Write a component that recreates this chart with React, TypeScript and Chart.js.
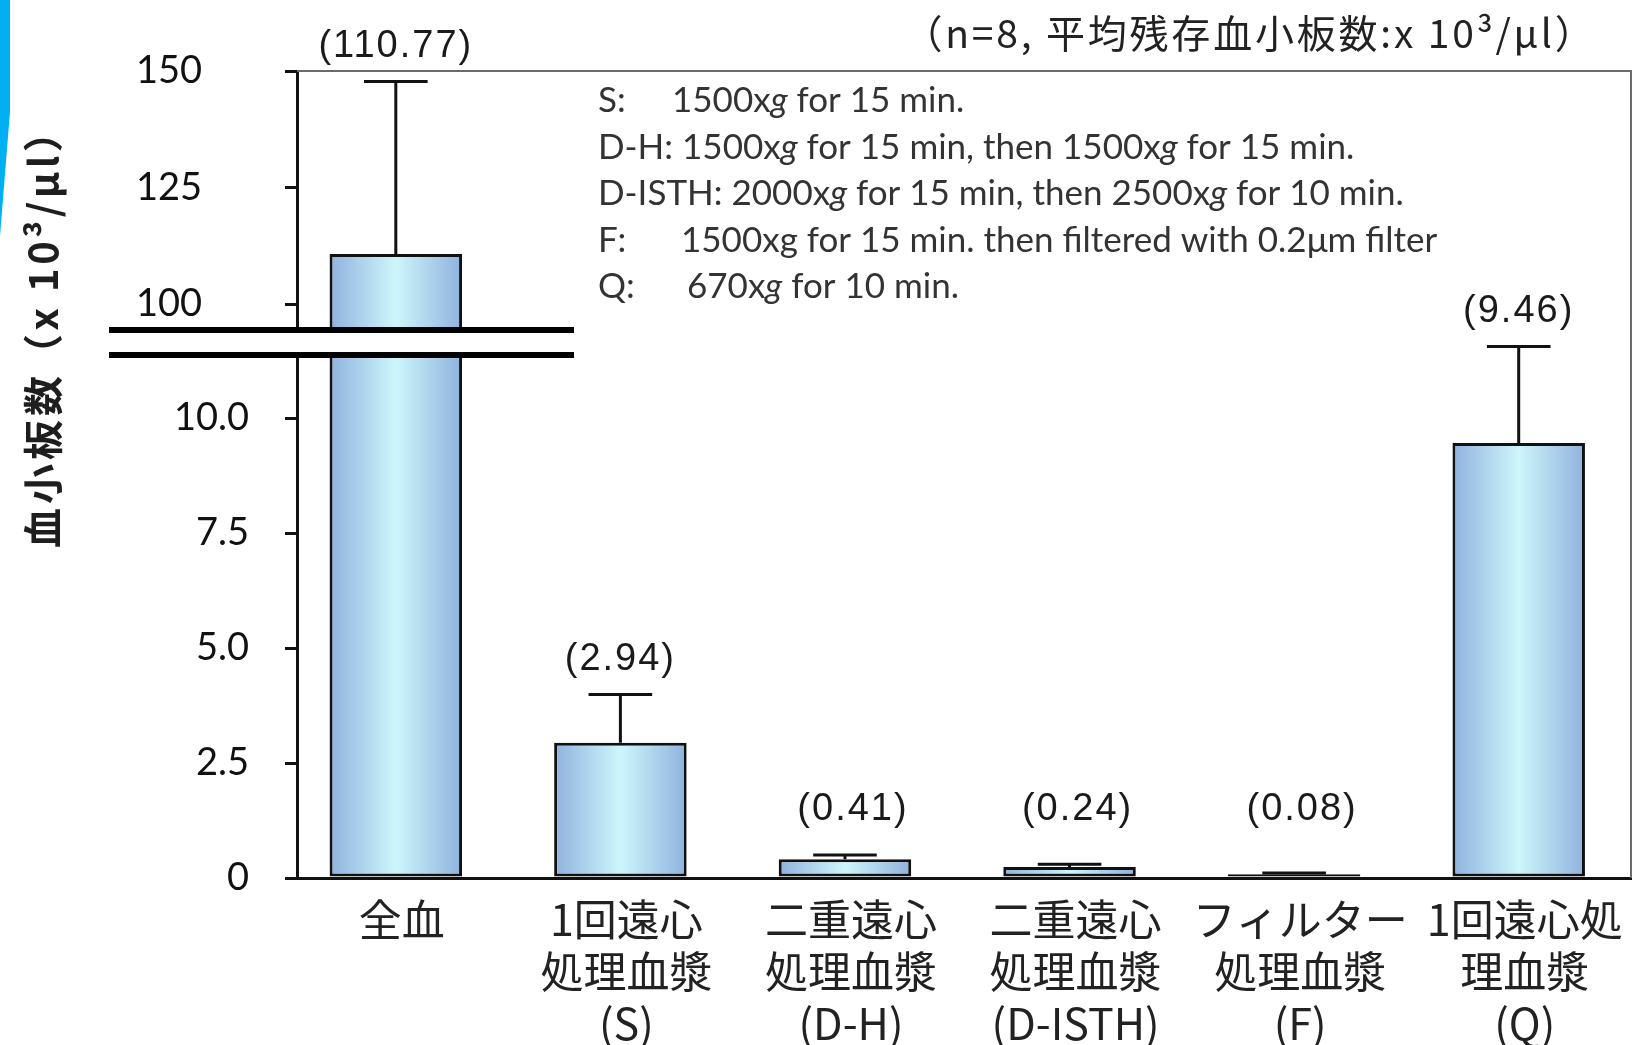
import { useEffect, useRef } from "react";
import { Chart, registerables } from "chart.js";

Chart.register(...registerables);

// Groups on the x axis (multi-line labels)
const CATEGORY_LABELS: string[][] = [
  ["全血"],
  ["1回遠心", "処理血漿", "(S)"],
  ["二重遠心", "処理血漿", "(D-H)"],
  ["二重遠心", "処理血漿", "(D-ISTH)"],
  ["フィルター", "処理血漿", "(F)"],
  ["1回遠心処", "理血漿", "(Q)"],
];

// Mean residual platelet count (x10^3/μl), n=8, and its SD (upper whisker only)
const MEAN_COUNTS = [110.77, 2.94, 0.41, 0.24, 0.08, 9.46];
const SD_COUNTS = [37.0, 1.05, 0.09, 0.06, 0.03, 2.1];

// Broken y axis: lower and upper segments
const LOWER_TICKS = [0, 2.5, 5, 7.5, 10];
const UPPER_TICKS = [100, 125, 150];
const LOWER_RANGE = [0, 11.7];
const UPPER_RANGE = [92.3, 150];
const X_RANGE = [-0.44, 5.5];

const Y_TITLE_MAIN = "血小板数";
const Y_TITLE_UNIT = "（x 10³/μl）";
const NOTE_TEXT = "（n=8, 平均残存血小板数:x 10³/μl）";

// Centrifugation protocols; [text, italic]
const PROTOCOL_KEYS = ["S:", "", "", "F:", "Q:"];
const PROTOCOL_BODIES: [string, boolean][][] = [
  [["1500x", false], ["g", true], [" for 15 min.", false]],
  [["D-H: 1500x", false], ["g", true], [" for 15 min, then 1500x", false], ["g", true], [" for 15 min.", false]],
  [["D-ISTH: 2000x", false], ["g", true], [" for 15 min, then 2500x", false], ["g", true], [" for 10 min.", false]],
  [["1500xg for 15 min. then filtered with 0.2μm filter", false]],
  [["670x", false], ["g", true], [" for 10 min.", false]],
];
const PROTOCOL_TABS = [74, 0, 0, 83, 89];

const CJK = "'Noto Sans CJK JP', 'Noto Sans', sans-serif";
const NUM = "'Liberation Sans', Arial, sans-serif";
const TICK = "Lato, 'Open Sans', sans-serif";
const BAR_FRACTION = 0.59;

function barGradient(chart: any, index: number) {
  const xs = chart.scales?.x;
  if (!xs || !chart.chartArea) return "#b3d6ee";
  const cx = xs.getPixelForValue(index);
  const half = ((xs.getPixelForValue(1) - xs.getPixelForValue(0)) * BAR_FRACTION) / 2;
  const g = chart.ctx.createLinearGradient(cx - half, 0, cx + half, 0);
  g.addColorStop(0, "#8fb2de");
  g.addColorStop(0.5, "#cdf6fb");
  g.addColorStop(1, "#8fb2de");
  return g;
}

// keep the axes from pushing the plot area inward
function noEdgePadding(s: any) {
  s.paddingTop = 0;
  s.paddingBottom = 0;
  s.paddingLeft = 0;
  s.paddingRight = 0;
}

const overlayPlugin = {
  id: "overlay",
  beforeDraw(chart: any) {
    const { ctx } = chart;
    ctx.save();
    ctx.fillStyle = "#ffffff";
    ctx.fillRect(0, 0, chart.width, chart.height);
    // slide accent on the left edge
    ctx.fillStyle = "#00b0f0";
    ctx.beginPath();
    ctx.moveTo(0, 0);
    ctx.lineTo(10, 0);
    ctx.lineTo(10, 112);
    ctx.lineTo(0, 236);
    ctx.closePath();
    ctx.fill();
    ctx.restore();
  },
  afterDraw(chart: any) {
    const { ctx, chartArea: ca, scales } = chart;
    const xs = scales.x;
    const lo = scales.yLow;
    const hi = scales.yHigh;
    ctx.save();

    // frame: top and right edges
    ctx.strokeStyle = "#6a6a6a";
    ctx.lineWidth = 2;
    ctx.beginPath();
    ctx.moveTo(ca.left, ca.top);
    ctx.lineTo(ca.right, ca.top);
    ctx.lineTo(ca.right, ca.bottom);
    ctx.stroke();

    // error whiskers and value labels
    const meta = chart.getDatasetMeta(0);
    MEAN_COUNTS.forEach((m, i) => {
      const s = m > LOWER_RANGE[1] ? hi : lo;
      const px = xs.getPixelForValue(i);
      const yBar = s.getPixelForValue(m);
      const yTop = s.getPixelForValue(m + SD_COUNTS[i]);
      const half = meta.data[i].width * 0.24;
      ctx.strokeStyle = "#111";
      ctx.lineWidth = 3;
      ctx.beginPath();
      ctx.moveTo(px, yBar);
      ctx.lineTo(px, yTop);
      ctx.moveTo(px - half, yTop);
      ctx.lineTo(px + half, yTop);
      ctx.stroke();

      const small = yTop - 35 > ca.bottom - 68;
      const ly = small ? ca.bottom - 68 : yTop - 35;
      ctx.font = `38px ${NUM}`;
      (ctx as any).letterSpacing = "2px";
      ctx.fillStyle = "#1a1a1a";
      ctx.textAlign = "center";
      ctx.textBaseline = "middle";
      ctx.fillText(`(${m.toFixed(2)})`, px + (small ? 8 : 0), ly);
      (ctx as any).letterSpacing = "0px";
    });

    // axis break marks
    const yb = lo.top;
    const bl = ca.left - 188;
    const bw = 465;
    ctx.fillStyle = "#ffffff";
    ctx.fillRect(bl, yb - 8, bw, 21);
    ctx.fillStyle = "#000000";
    ctx.fillRect(bl, yb - 13, bw, 6);
    ctx.fillRect(bl, yb + 12, bw, 6);

    // protocol notes
    const nx = ca.left + 301;
    PROTOCOL_BODIES.forEach((segs, r) => {
      const y = ca.top + 30 + r * 46.5;
      ctx.fillStyle = "#333333";
      ctx.textAlign = "left";
      ctx.textBaseline = "middle";
      ctx.font = `35px ${TICK}`;
      if (PROTOCOL_KEYS[r]) ctx.fillText(PROTOCOL_KEYS[r], nx, y);
      let cx = nx + PROTOCOL_TABS[r];
      segs.forEach(([t, it]) => {
        ctx.font = `${it ? "italic " : ""}35px ${TICK}`;
        ctx.fillText(t, cx, y);
        cx += ctx.measureText(t).width;
      });
    });

    // sample-size note above the plot
    ctx.font = `39px ${CJK}`;
    (ctx as any).letterSpacing = "2.8px";
    ctx.fillStyle = "#222";
    ctx.textAlign = "center";
    ctx.textBaseline = "middle";
    ctx.fillText(NOTE_TEXT, 1250, ca.top - 38);

    // y axis title, read bottom to top
    ctx.translate(43, ca.top + 477);
    ctx.rotate(-Math.PI / 2);
    ctx.fillStyle = "#1e1e1e";
    ctx.textAlign = "left";
    ctx.textBaseline = "middle";
    ctx.font = `bold 40px ${CJK}`;
    (ctx as any).letterSpacing = "4px";
    ctx.fillText(Y_TITLE_MAIN, 0, 0);
    const w = ctx.measureText(Y_TITLE_MAIN).width;
    (ctx as any).letterSpacing = "3.5px";
    ctx.fillText(Y_TITLE_UNIT, w - 2, 0);
    ctx.restore();
  },
};

export default function App() {
  const canvasRef = useRef<HTMLCanvasElement | null>(null);

  useEffect(() => {
    const canvas = canvasRef.current;
    if (!canvas) return;

    const lowerData = MEAN_COUNTS.map((v, i) => ({ x: i, y: Math.min(v, LOWER_RANGE[1]) }));
    const upperData = MEAN_COUNTS.map((v, i) => ({ x: i, y: v > UPPER_RANGE[0] ? v : null }));

    const common = {
      backgroundColor: (c: any) => barGradient(c.chart, c.dataIndex),
      borderColor: "#111111",
      borderWidth: 3,
      borderSkipped: false as const,
      barPercentage: BAR_FRACTION,
      categoryPercentage: 1,
      grouped: false,
    };

    const chart = new Chart(canvas, {
      type: "bar",
      data: {
        datasets: [
          { ...common, label: "lower", data: lowerData as any, yAxisID: "yLow" },
          { ...common, label: "upper", data: upperData as any, yAxisID: "yHigh" },
        ],
      },
      options: {
        responsive: false,
        animation: false,
        devicePixelRatio: 1,
        events: [],
        layout: { padding: { top: 71, right: 6, left: 0, bottom: 0 } },
        plugins: { legend: { display: false }, tooltip: { enabled: false } },
        scales: {
          x: {
            type: "linear",
            offset: false,
            min: X_RANGE[0],
            max: X_RANGE[1],
            grid: { display: false, offset: false },
            border: { display: true, color: "#111", width: 3 },
            afterBuildTicks: (s: any) => {
              s.ticks = CATEGORY_LABELS.map((_, i) => ({ value: i }));
            },
            afterFit: (s: any) => {
              s.height = 167;
              noEdgePadding(s);
            },
            ticks: {
              autoSkip: false,
              maxRotation: 0,
              minRotation: 0,
              padding: 8,
              labelOffset: 6,
              color: "#222",
              font: { family: CJK, size: 43, lineHeight: 1.21 },
              callback: (v: any) => CATEGORY_LABELS[Math.round(Number(v))] ?? "",
            },
          },
          yLow: {
            type: "linear",
            position: "left",
            stack: "broken",
            stackWeight: 2,
            min: LOWER_RANGE[0],
            max: LOWER_RANGE[1],
            afterBuildTicks: (s: any) => {
              s.ticks = LOWER_TICKS.map((v) => ({ value: v }));
            },
            afterFit: (s: any) => {
              s.width = 297;
              noEdgePadding(s);
            },
            grid: { drawOnChartArea: false, drawTicks: true, tickLength: 12, color: "#111", lineWidth: 3 },
            border: { display: true, color: "#111", width: 3 },
            ticks: {
              padding: 36,
              color: "#111",
              font: { family: TICK, size: 38 },
              callback: (v: any) => (Number(v) === 0 ? "0" : Number(v).toFixed(1)),
            },
          },
          yHigh: {
            type: "linear",
            position: "left",
            stack: "broken",
            stackWeight: 1,
            min: UPPER_RANGE[0],
            max: UPPER_RANGE[1],
            afterBuildTicks: (s: any) => {
              s.ticks = UPPER_TICKS.map((v) => ({ value: v }));
            },
            afterFit: (s: any) => {
              s.width = 297;
              noEdgePadding(s);
            },
            grid: { drawOnChartArea: false, drawTicks: true, tickLength: 12, color: "#111", lineWidth: 3 },
            border: { display: true, color: "#111", width: 3 },
            ticks: {
              padding: 83,
              color: "#111",
              font: { family: TICK, size: 38 },
              callback: (v: any) => String(v),
            },
          },
        },
      } as any,
      plugins: [overlayPlugin],
    });

    return () => chart.destroy();
  }, []);

  return (
    <div style={{ position: "fixed", left: 0, top: 0, width: 1637, height: 1045, background: "#fff" }}>
      <canvas ref={canvasRef} width={1637} height={1045} style={{ display: "block", width: 1637, height: 1045 }} />
    </div>
  );
}
